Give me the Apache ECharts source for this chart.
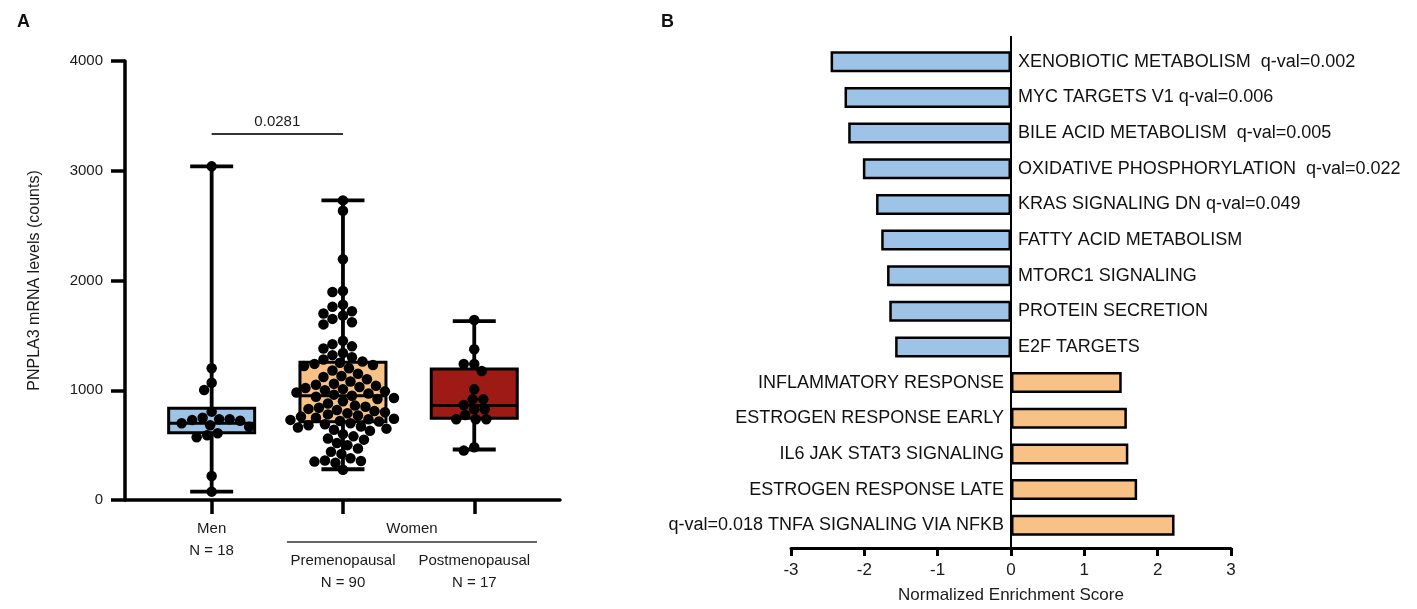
<!DOCTYPE html>
<html><head><meta charset="utf-8">
<script src="https://cdn.jsdelivr.net/npm/echarts@6/dist/echarts.min.js"></script>
<style>html,body{margin:0;padding:0;background:#fff}#c{width:1417px;height:609px}</style>
</head><body><div id="c"></div>
<script>
// ---------- Panel A data ----------
const groupNames = ['Men', 'Premenopausal', 'Postmenopausal'];
const groupN = ['N = 18', 'N = 90', 'N = 17'];
const superGroup = 'Women';
const yTicksA = [0, 1000, 2000, 3000, 4000];
// box stats: [min, Q1, median, Q3, max]
const menBox = [76, 613, 700, 835, 3040];
const preBox = [280, 714, 950, 1255, 2730];
const postBox = [460, 744, 860, 1194, 1630];
const menPoints = [3040, 1200, 1069, 1002, 805, 750, 735, 735, 728, 722, 700, 680, 668, 608, 590, 571, 219, 76];
const prePoints = [
  2730, 2636, 2193, 1904, 1895, 1780, 1760, 1720, 1700, 1680, 1650, 1620, 1600, 1450, 1420, 1400, 1380, 1340, 1320, 1300, 1280, 1262,
  1250, 1240, 1230, 1220, 1200, 1180, 1150, 1130, 1120, 1100, 1080, 1060, 1050, 1040, 1030, 1020, 1010, 1000, 990, 980, 970, 960, 950, 940,
  930, 920, 900, 880, 860, 850, 840, 830, 820, 810, 800, 790, 780, 770, 760, 750, 740, 735, 730, 720, 715,
  700, 690, 680, 670, 660, 650, 640, 630, 600, 580, 560, 550, 520, 500, 470, 440, 420, 380, 360, 355, 350, 340, 275
];
const postPoints = [1640, 1373, 1239, 1239, 1175, 1008, 917, 917, 866, 826, 826, 775, 735, 735, 735, 480, 450];
const pValueText = '0.0281';
const pValueLevel = 3335;

// ---------- Panel B data ----------
const pathways = [
  'XENOBIOTIC METABOLISM', 'MYC TARGETS V1', 'BILE ACID METABOLISM', 'OXIDATIVE PHOSPHORYLATION',
  'KRAS SIGNALING DN', 'FATTY ACID METABOLISM', 'MTORC1 SIGNALING', 'PROTEIN SECRETION', 'E2F TARGETS',
  'INFLAMMATORY RESPONSE', 'ESTROGEN RESPONSE EARLY', 'IL6 JAK STAT3 SIGNALING', 'ESTROGEN RESPONSE LATE',
  'TNFA SIGNALING VIA NFKB'
];
const qvals = ['q-val=0.002', 'q-val=0.006', 'q-val=0.005', 'q-val=0.022', 'q-val=0.049', '', '', '', '',
  '', '', '', '', 'q-val=0.018'];
const nes = [-2.46, -2.27, -2.22, -2.02, -1.84, -1.77, -1.69, -1.66, -1.58, 1.51, 1.58, 1.60, 1.72, 2.23];
const nesTicks = [-3, -2, -1, 0, 1, 2, 3];

// ---------- styles ----------
const FONT = '"Liberation Sans", Arial, Helvetica, sans-serif';
const boxColors = ['#9DC3E6', '#F8C185', '#9E1A15'];
const negColor = '#9DC3E6', posColor = '#F8C185';
const gap2 = new Set([0, 2, 3]);

const chart = echarts.init(document.getElementById('c'), null, {renderer: 'canvas'});
const boxes = [menBox, preBox, postBox];
const pointSets = [menPoints, prePoints, postPoints];

function swarm(values, center, pxPerVal, pxPerX, diam) {
  const order = values.map((v, i) => i).sort((a, b) => values[b] - values[a]);
  const placed = [];
  const out = new Array(values.length);
  for (const i of order) {
    const y = values[i] * pxPerVal;
    let best = 0;
    for (let k = 0; k < 400; k++) {
      const off = (k % 2 === 0 ? 1 : -1) * Math.ceil(k / 2) * 1.5;
      let ok = true;
      for (const p of placed) {
        const dx = p.x - off, dy = p.y - y;
        if (dx * dx + dy * dy < diam * diam) { ok = false; break; }
      }
      if (ok) { best = off; break; }
    }
    placed.push({x: best, y});
    out[i] = [center + best / pxPerX, values[i]];
  }
  return out;
}

const option = {
  animation: false,
  backgroundColor: '#fff',
  textStyle: {fontFamily: FONT},
  title: [
    {text: 'A', left: 12, top: 8, textStyle: {fontSize: 18, fontWeight: 'bold', color: '#111', fontFamily: FONT}},
    {text: 'B', left: 656, top: 8, textStyle: {fontSize: 18, fontWeight: 'bold', color: '#111', fontFamily: FONT}}
  ],
  grid: [
    {left: 125, top: 61, width: 435, height: 439},
    {left: 791, top: 44, width: 440, height: 500}
  ],
  xAxis: [
    {
      gridIndex: 0, type: 'value', min: 0.34, max: 3.653,
      axisLine: {show: true, lineStyle: {color: '#000', width: 3.5}},
      axisTick: {show: true, customValues: [1, 2, 3], length: 14, lineStyle: {color: '#000', width: 3.5}},
      axisLabel: {show: false},
      splitLine: {show: false}
    },
    {
      gridIndex: 1, type: 'value', min: -3, max: 3, interval: 1, offset: 5,
      axisLine: {show: true, onZero: false, lineStyle: {color: '#000', width: 3}},
      axisTick: {show: true, length: 8, lineStyle: {color: '#000', width: 3}},
      axisLabel: {fontSize: 17, color: '#1a1a1a', margin: 14, fontFamily: FONT,
        formatter: v => String(v)},
      splitLine: {show: false},
      name: 'Normalized Enrichment Score', nameLocation: 'middle', nameGap: 39,
      nameTextStyle: {fontSize: 17, color: '#1a1a1a', fontFamily: FONT}
    }
  ],
  yAxis: [
    {
      gridIndex: 0, type: 'value', min: 0, max: 4000, interval: 1000,
      axisLine: {show: true, lineStyle: {color: '#000', width: 3.5}},
      axisTick: {show: true, length: 14, lineStyle: {color: '#000', width: 3.5}},
      axisLabel: {fontSize: 15, color: '#1a1a1a', margin: 22, fontFamily: FONT,
        formatter: v => String(v)},
      splitLine: {show: false},
      name: 'PNPLA3 mRNA levels (counts)', nameLocation: 'middle', nameGap: 82,
      nameTextStyle: {fontSize: 16, color: '#1a1a1a', fontFamily: FONT}
    },
    {
      gridIndex: 1, type: 'category', inverse: true, data: pathways,
      axisLine: {show: false}, axisTick: {show: false}, axisLabel: {show: false}, splitLine: {show: false}
    }
  ],
  series: [
    {
      type: 'custom', name: 'boxes', xAxisIndex: 0, yAxisIndex: 0, clip: false, silent: true, z: 2,
      data: boxes.map((b, i) => [i + 1].concat(b)),
      renderItem: function (params, api) {
        const x = api.value(0);
        const c = (v) => api.coord([x, v]);
        const pMin = c(api.value(1)), pQ1 = c(api.value(2)), pMd = c(api.value(3)),
              pQ3 = c(api.value(4)), pMax = c(api.value(5));
        const cx = pMin[0], bw = 86, cw = 43;
        const st = {stroke: '#000', lineWidth: 3.8};
        return {type: 'group', children: [
          {type: 'line', shape: {x1: cx, y1: pMax[1], x2: cx, y2: pMin[1]}, style: st},
          {type: 'line', shape: {x1: cx - cw / 2, y1: pMax[1], x2: cx + cw / 2, y2: pMax[1]}, style: st},
          {type: 'line', shape: {x1: cx - cw / 2, y1: pMin[1], x2: cx + cw / 2, y2: pMin[1]}, style: st},
          {type: 'rect', shape: {x: cx - bw / 2, y: pQ3[1], width: bw, height: pQ1[1] - pQ3[1]},
            style: {fill: boxColors[params.dataIndex], stroke: '#000', lineWidth: 3}},
          {type: 'line', shape: {x1: cx - bw / 2, y1: pMd[1], x2: cx + bw / 2, y2: pMd[1]}, style: {stroke: '#000', lineWidth: 3}}
        ]};
      }
    },
    {
      type: 'scatter', name: 'points', xAxisIndex: 0, yAxisIndex: 0, symbolSize: 10.5, z: 3, silent: true,
      itemStyle: {color: '#000', opacity: 1},
      data: []
    },
    {
      type: 'custom', name: 'annotA', xAxisIndex: 0, yAxisIndex: 0, clip: false, silent: true, z: 4,
      data: [[1, 0]],
      renderItem: function (params, api) {
        const ch = [];
        const a = api.coord([1, pValueLevel]), b = api.coord([2, pValueLevel]);
        ch.push({type: 'line', shape: {x1: a[0], y1: a[1], x2: b[0], y2: b[1]}, style: {stroke: '#333', lineWidth: 2}});
        ch.push({type: 'text', x: (a[0] + b[0]) / 2, y: a[1] - 12,
          style: {text: pValueText, fill: '#1a1a1a', font: '15px ' + FONT, align: 'center', verticalAlign: 'middle'}});
        for (let i = 0; i < 3; i++) {
          const p = api.coord([i + 1, 0]);
          const y1 = i === 0 ? p[1] + 29 : p[1] + 61;
          ch.push({type: 'text', x: p[0], y: y1,
            style: {text: groupNames[i], fill: '#1a1a1a', font: '15px ' + FONT, align: 'center', verticalAlign: 'middle'}});
          ch.push({type: 'text', x: p[0], y: y1 + 22,
            style: {text: groupN[i], fill: '#1a1a1a', font: '15px ' + FONT, align: 'center', verticalAlign: 'middle'}});
        }
        const w1 = api.coord([1.573, 0]), w2 = api.coord([3.478, 0]);
        ch.push({type: 'text', x: (w1[0] + w2[0]) / 2, y: w1[1] + 29,
          style: {text: superGroup, fill: '#1a1a1a', font: '15px ' + FONT, align: 'center', verticalAlign: 'middle'}});
        ch.push({type: 'line', shape: {x1: w1[0], y1: w1[1] + 42, x2: w2[0], y2: w1[1] + 42}, style: {stroke: '#333', lineWidth: 1.5}});
        return {type: 'group', children: ch};
      }
    },
    {
      type: 'bar', name: 'NES', xAxisIndex: 1, yAxisIndex: 1, barWidth: 21, silent: true,
      data: nes.map(v => ({value: v, itemStyle: {color: v < 0 ? negColor : posColor}})),
      itemStyle: {borderColor: '#000', borderWidth: 2.5}
    },
    {
      type: 'custom', name: 'zeroLine', xAxisIndex: 1, yAxisIndex: 1, clip: false, silent: true, z: 5,
      data: [[0, 0]],
      renderItem: function (params, api) {
        const top = api.coord([0, 0]), bot = api.coord([0, pathways.length - 1]);
        const band = api.size([0, 1])[1];
        return {type: 'line', shape: {x1: top[0], y1: top[1] - band / 2 - 8, x2: top[0], y2: bot[1] + band / 2 + 5},
          style: {stroke: '#000', lineWidth: 2}};
      }
    },
    {
      type: 'scatter', name: 'pathLabels', xAxisIndex: 1, yAxisIndex: 1, symbolSize: 0, silent: true, z: 6,
      itemStyle: {opacity: 1},
      data: pathways.map((p, i) => {
        const neg = nes[i] < 0;
        const sep = gap2.has(i) ? '  ' : ' ';
        const txt = qvals[i] ? (neg ? p + sep + qvals[i] : qvals[i] + ' ' + p) : p;
        return {value: [0, i], label: {show: true, position: neg ? 'right' : 'left', distance: 7, formatter: txt,
          fontSize: 18, color: '#111', fontFamily: FONT}};
      })
    }
  ]
};
chart.setOption(option);

const p0 = chart.convertToPixel({xAxisIndex: 0, yAxisIndex: 0}, [1, 0]);
const p1 = chart.convertToPixel({xAxisIndex: 0, yAxisIndex: 0}, [2, 1000]);
const pxPerX = p1[0] - p0[0];
const pxPerVal = (p0[1] - p1[1]) / 1000;
let pts = [];
pointSets.forEach((vals, i) => { pts = pts.concat(swarm(vals, i + 1, pxPerVal, pxPerX, 10)); });
chart.setOption({series: [{name: 'boxes'}, {name: 'points', data: pts}]});
</script></body></html>
